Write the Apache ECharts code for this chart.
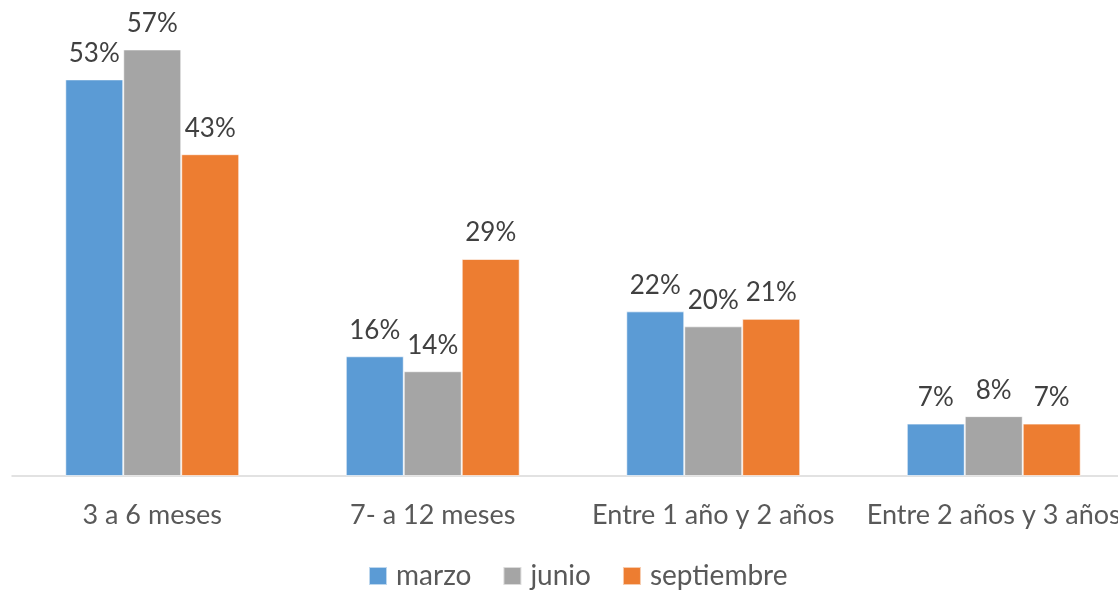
<!DOCTYPE html>
<html><head><meta charset="utf-8">
<script src="https://cdn.jsdelivr.net/npm/echarts@6/dist/echarts.min.js"></script>
<style>html,body{margin:0;padding:0;background:#fff;overflow:hidden}#c{width:1134px;height:592px}</style>
</head><body><div id="c"></div>
<script>
const categories = ['3 a 6 meses', '7- a 12 meses', 'Entre 1 año y 2 años', 'Entre 2 años y 3 años'];
const seriesNames = ['marzo', 'junio', 'septiembre'];
const marzo = [53, 16, 22, 7];
const junio = [57, 14, 20, 8];
const septiembre = [43, 29, 21, 7];
const colors = ['#5B9BD5', '#A5A5A5', '#ED7D31'];
const FONT = 'Lato';
const chart = echarts.init(document.getElementById('c'));
const mk = (name, data, color) => ({
  name, type: 'bar', data,
  barGap: '0%', barCategoryGap: '38%',
  itemStyle: { color, borderColor: 'rgba(255,255,255,0.6)', borderWidth: 1 },
  label: { show: true, position: 'top', distance: 13, formatter: '{c}%', color: '#404040', fontSize: 26, fontFamily: FONT },
  emphasis: { disabled: true }
});
chart.setOption({
  animation: false,
  textStyle: { fontFamily: FONT },
  grid: { left: 12, top: 27, right: 0, bottom: 116, containLabel: false },
  legend: {
    top: 557, left: 363, itemWidth: 18, itemHeight: 18, itemGap: 31, padding: 5,
    icon: 'rect',
    textStyle: { fontSize: 28, color: '#595959', fontFamily: FONT, padding: [0, 0, 0, 4] },
    data: seriesNames
  },
  xAxis: {
    type: 'category', data: categories,
    axisLine: { lineStyle: { color: '#D9D9D9', width: 1.5 } },
    axisTick: { show: false },
    axisLabel: { color: '#595959', fontSize: 27, margin: 26, fontFamily: FONT, interval: 0 }
  },
  yAxis: { type: 'value', min: 0, max: 60, show: false, splitLine: { show: false } },
  series: [mk(seriesNames[0], marzo, colors[0]), mk(seriesNames[1], junio, colors[1]), mk(seriesNames[2], septiembre, colors[2])]
});
</script></body></html>
